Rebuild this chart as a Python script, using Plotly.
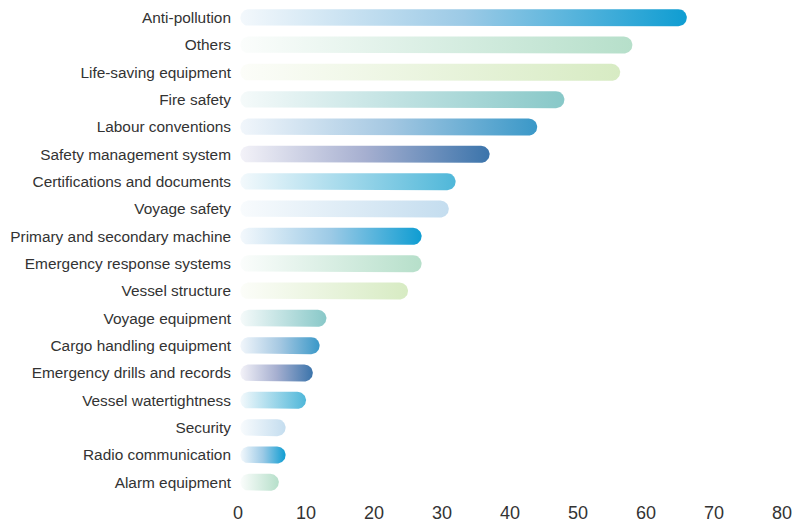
import numpy as np
import plotly.graph_objects as go

categories = ["Anti-pollution", "Others", "Life-saving equipment", "Fire safety",
              "Labour conventions", "Safety management system", "Certifications and documents",
              "Voyage safety", "Primary and secondary machine", "Emergency response systems",
              "Vessel structure", "Voyage equipment", "Cargo handling equipment",
              "Emergency drills and records", "Vessel watertightness", "Security",
              "Radio communication", "Alarm equipment"]
values = [66, 58, 56.2, 48, 44, 37, 32, 31, 27, 27, 25, 13, 12, 11, 10, 7, 7, 6]
xticks = [0, 10, 20, 30, 40, 50, 60, 70, 80]

palette = [
    [[0, "#f3f8fc"], [0.5, "#9ccae6"], [1, "#0f9dd2"]],
    [[0, "#fbfdfc"], [1, "#b6dfca"]],
    [[0, "#fcfdf9"], [1, "#d7ebc3"]],
    [[0, "#f5fafa"], [1, "#88c8c8"]],
    [[0, "#f1f6fb"], [0.5, "#a5c8e2"], [1, "#3a98c8"]],
    [[0, "#f3f2f8"], [0.5, "#a6afd0"], [1, "#3b74ab"]],
    [[0, "#f3f9fc"], [1, "#4fb7d9"]],
    [[0, "#f8fbfd"], [1, "#c4ddef"]],
]

fig = go.Figure()
rx = 1.25
ry = 0.31
x0 = 0.35
t = np.linspace(-np.pi / 2, np.pi / 2, 25)
for i, (cat, v) in enumerate(zip(categories, values)):
    # closed path: right cap bottom->top, then left cap top->bottom
    xs = np.concatenate([v - rx + rx * np.cos(t), x0 + rx - rx * np.cos(t)[::-1]])
    ys = np.concatenate([i + ry * np.sin(t), i + ry * np.sin(t)[::-1]])
    fig.add_trace(go.Scatter(
        x=xs, y=ys, mode="lines", line=dict(width=0), fill="toself",
        fillgradient=dict(type="horizontal", colorscale=palette[i % 8], start=x0, stop=v),
        hoverinfo="skip", showlegend=False))

fig.update_layout(
    width=795, height=525,
    margin=dict(l=238, r=13, t=4, b=29),
    paper_bgcolor="white", plot_bgcolor="white",
    font=dict(family="Liberation Sans, Arial, sans-serif", color="#333333"),
    xaxis=dict(range=[0, 80], tickvals=xticks, automargin=False,
               showgrid=False, zeroline=False, showline=False,
               tickfont=dict(size=18, color="#333333"), ticks="", ticklabelstandoff=4),
    yaxis=dict(range=[17.5, -0.5], tickvals=list(range(len(categories))), automargin=False,
               ticktext=categories, showgrid=False, zeroline=False, showline=False,
               tickfont=dict(size=15.4, color="#333333"), ticks="", ticklabelstandoff=6),
)
fig.write_html("out.html")
